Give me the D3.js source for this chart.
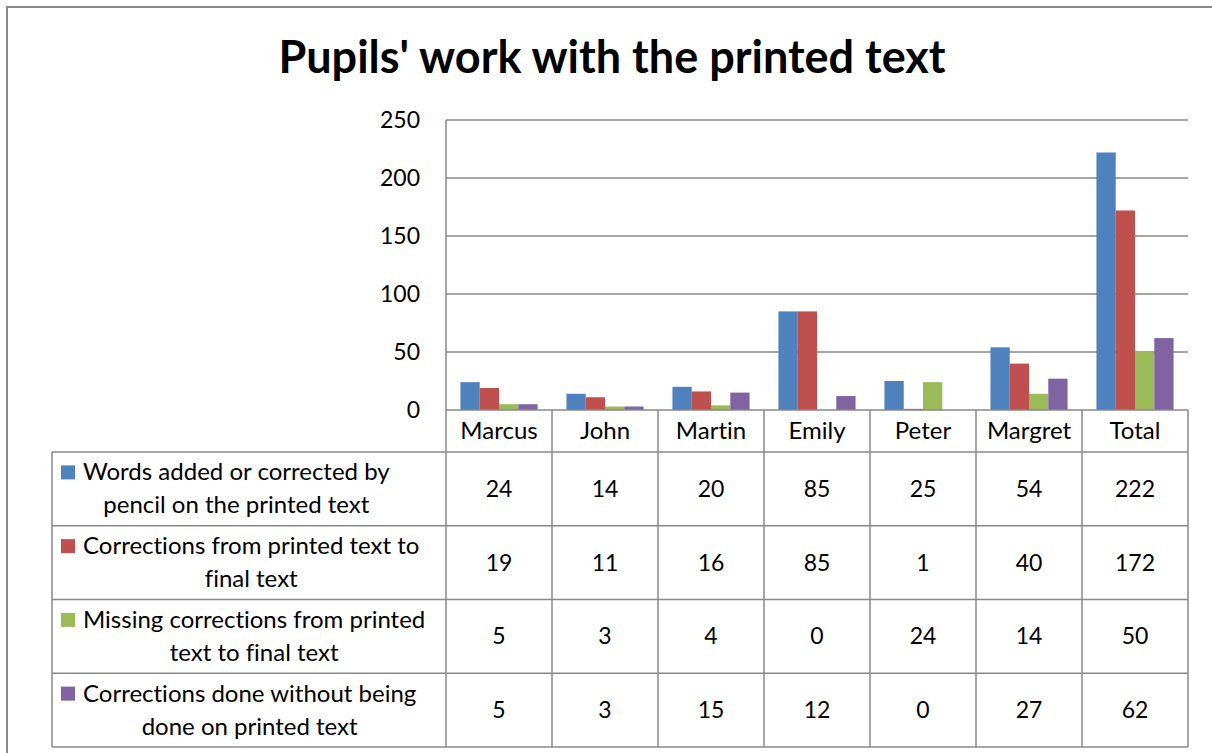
<!DOCTYPE html>
<html>
<head>
<meta charset="utf-8">
<script src="https://cdn.jsdelivr.net/npm/d3@7"></script>
<style>
  html, body { margin: 0; padding: 0; background: #fff; }
  svg { display: block; }
  text { font-family: Lato, "Open Sans", sans-serif; fill: #000; font-variant-ligatures: none; }
</style>
</head>
<body>
<svg id="chart" width="1212" height="753"></svg>
<script>
// Pupils and the total column
const categories = ["Marcus", "John", "Martin", "Emily", "Peter", "Margret", "Total"];

// Series labels, as they wrap in the data table
const seriesLabels = [
  ["Words added or corrected by", "pencil on the printed text"],
  ["Corrections from printed text to", "final text"],
  ["Missing corrections from printed", "text to final text"],
  ["Corrections done without being", "done on printed text"]
];

const seriesColors = ["#4F81BD", "#C0504D", "#9BBB59", "#8064A2"];

// Series values per pupil
const wordsAdded        = [24, 14, 20, 85, 25, 54, 222];
const correctionsFinal  = [19, 11, 16, 85, 1, 40, 172];
const missingFinal      = [5, 3, 4, 0, 24, 14, 50];
const correctionsNoMark = [5, 3, 15, 12, 0, 27, 62];
const seriesValues = [wordsAdded, correctionsFinal, missingFinal, correctionsNoMark];

const yTicks = [0, 50, 100, 150, 200, 250];
const titleText = "Pupils' work with the printed text";

// ---- layout ----
const W = 1212, H = 753;
const plot = { left: 446, right: 1188, top: 120, bottom: 410 };
const headerBottom = 452;
const tableBottom = 747;
const tableLeft = 52;
const rowH = (tableBottom - headerBottom) / seriesLabels.length;
const gridColor = "#898989";

const svg = d3.select("#chart");

// outer chart frame
svg.append("rect")
  .attr("x", 7).attr("y", 7)
  .attr("width", W + 20).attr("height", H + 20)
  .attr("fill", "#fff")
  .attr("stroke", gridColor).attr("stroke-width", 2);

// title
svg.append("text")
  .attr("x", 612).attr("y", 73)
  .attr("text-anchor", "middle")
  .style("font-weight", "bold")
  .style("font-size", "45px")
  .text(titleText);

// scales
const x0 = d3.scaleBand().domain(categories).range([plot.left, plot.right]).padding(0);
const bw = x0.bandwidth();
const gap = bw * 0.75 / 5.5;
const x1 = d3.scaleBand().domain(d3.range(seriesValues.length)).range([gap, bw - gap]).padding(0);
const y = d3.scaleLinear().domain([0, 250]).range([plot.bottom, plot.top]);

// horizontal gridlines
svg.append("g")
  .selectAll("line")
  .data(yTicks.filter(t => t > 0))
  .join("line")
  .attr("x1", plot.left).attr("x2", plot.right)
  .attr("y1", d => y(d)).attr("y2", d => y(d))
  .attr("stroke", gridColor).attr("stroke-width", 1.5);

// y axis labels
const yAxis = d3.axisLeft(y).tickValues(yTicks).tickSize(0).tickPadding(26);
const yg = svg.append("g").attr("transform", `translate(${plot.left},0)`).call(yAxis);
yg.select(".domain").remove();
yg.selectAll("text").style("font-size", "23px").style("font-family", "Lato, sans-serif").attr("fill", "#000");

// bars
const groups = svg.append("g")
  .selectAll("g")
  .data(categories)
  .join("g")
  .attr("transform", d => `translate(${x0(d)},0)`);

groups.selectAll("rect")
  .data((c, ci) => seriesValues.map((vals, si) => ({ si, v: vals[ci] })))
  .join("rect")
  .attr("x", d => x1(d.si))
  .attr("width", x1.bandwidth())
  .attr("y", d => y(d.v))
  .attr("height", d => y(0) - y(d.v))
  .attr("fill", d => seriesColors[d.si]);

// ---- data table ----
const tg = svg.append("g").attr("stroke", gridColor).attr("stroke-width", 1.5);

// value axis line continuing down the table
tg.append("line").attr("x1", plot.left).attr("x2", plot.left).attr("y1", plot.top).attr("y2", tableBottom);
// category column dividers
categories.forEach(c => {
  const xr = x0(c) + bw;
  tg.append("line").attr("x1", xr).attr("x2", xr).attr("y1", plot.bottom).attr("y2", tableBottom);
});
// left border of the legend column
tg.append("line").attr("x1", tableLeft).attr("x2", tableLeft).attr("y1", headerBottom).attr("y2", tableBottom);
// category axis line
tg.append("line").attr("x1", plot.left).attr("x2", plot.right).attr("y1", plot.bottom).attr("y2", plot.bottom);
// row lines
d3.range(seriesLabels.length + 1).forEach(i => {
  const yy = headerBottom + i * rowH;
  tg.append("line").attr("x1", tableLeft).attr("x2", plot.right).attr("y1", yy).attr("y2", yy);
});

// category header labels
svg.append("g")
  .selectAll("text")
  .data(categories)
  .join("text")
  .attr("x", d => x0(d) + bw / 2)
  .attr("y", (plot.bottom + headerBottom) / 2 + 8)
  .attr("text-anchor", "middle")
  .style("font-size", "24px")
  .text(d => d);

// value cells
seriesValues.forEach((vals, si) => {
  const cy = headerBottom + si * rowH + rowH / 2;
  svg.append("g")
    .selectAll("text")
    .data(vals)
    .join("text")
    .attr("x", (d, ci) => x0(categories[ci]) + bw / 2)
    .attr("y", cy + 8)
    .attr("text-anchor", "middle")
    .style("font-size", "23px")
    .text(d => d);
});

// legend cells: swatch + wrapped label, lines centred on the widest line
const textLeft = 83;
const lineGap = 33;
seriesLabels.forEach((lines, si) => {
  const cy = headerBottom + si * rowH + rowH / 2;
  const g = svg.append("g");
  const texts = lines.map((ln, li) =>
    g.append("text")
      .attr("y", cy + (li - (lines.length - 1) / 2) * lineGap + 8)
      .attr("text-anchor", "middle")
      .style("font-size", "24px")
      .text(ln)
  );
  const widest = d3.max(texts, t => t.node().getComputedTextLength());
  texts.forEach(t => t.attr("x", textLeft + widest / 2));
  g.append("rect")
    .attr("x", 61).attr("width", 14)
    .attr("y", cy - lineGap / 2 - 7).attr("height", 14)
    .attr("fill", seriesColors[si]);
});
</script>
</body>
</html>
